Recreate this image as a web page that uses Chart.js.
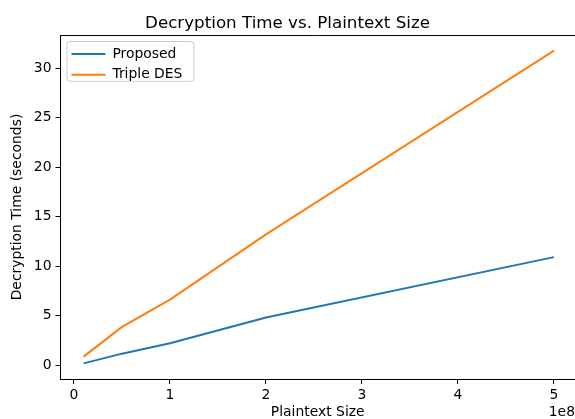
<!DOCTYPE html>
<html>
<head>
  <title>Decryption Time</title>
  <script src="https://cdn.jsdelivr.net/npm/chart.js"></script>
  <style>
    html, body { margin: 0; padding: 0; overflow: hidden; background: #fff; }
    canvas { display: block; }
  </style>
</head>
<body>
  <canvas id="decChart" width="575" height="419"></canvas>

  <script>
    // values
    const sizes = [1e7, 5e7, 1e8, 2e8, 5e8];
    const proposedTimes = [0.17, 1.15, 2.2, 4.8, 10.9];
    const tripleDesTimes = [0.85, 3.85, 6.6, 13.2, 31.75];
    const seriesNames = ['Proposed', 'Triple DES'];
    const xTicks = [0, 1e8, 2e8, 3e8, 4e8, 5e8];
    const yTicks = [0, 5, 10, 15, 20, 25, 30];

    const font = 'DejaVu Sans';

    // frame around legend, top spine, and the "1e8" offset text
    const extras = {
      id: 'extras',
      afterLayout(chart) {
        // move legend inside the plot, upper left
        const lg = chart.legend;
        const dx = 4, dy = 40;
        lg.left += dx; lg.right += dx;
        lg.top += dy; lg.bottom += dy;
      },
      beforeDraw(chart) {
        const ctx = chart.ctx;
        const boxes = chart.legend.legendHitBoxes;
        if (boxes && boxes.length) {
          let l = Infinity, t = Infinity, r = -Infinity, b = -Infinity;
          boxes.forEach(h => {
            l = Math.min(l, h.left); t = Math.min(t, h.top);
            r = Math.max(r, h.left + h.width); b = Math.max(b, h.top + h.height);
          });
          ctx.save();
          ctx.beginPath();
          ctx.roundRect(l - 4.5, t - 5.5, r - l + 16, b - t + 5, 3);
          ctx.fillStyle = 'rgba(255,255,255,0.8)';
          ctx.fill();
          ctx.strokeStyle = '#cccccc';
          ctx.lineWidth = 1;
          ctx.stroke();
          ctx.restore();
        }
      },
      afterDraw(chart) {
        const ctx = chart.ctx;
        const a = chart.chartArea;
        ctx.save();
        ctx.strokeStyle = '#000';
        ctx.lineWidth = 1;
        ctx.beginPath();
        ctx.moveTo(a.left, a.top + 0.5);
        ctx.lineTo(a.right, a.top + 0.5);
        ctx.stroke();
        ctx.fillStyle = '#000';
        ctx.font = '13.9px "' + font + '"';
        ctx.textAlign = 'right';
        ctx.textBaseline = 'middle';
        ctx.fillText('1e8', 575, 412);
        ctx.restore();
      }
    };

    const ctx = document.getElementById('decChart').getContext('2d');
    new Chart(ctx, {
      type: 'line',
      data: {
        datasets: [{
          label: seriesNames[0],
          data: sizes.map((s, i) => ({ x: s, y: proposedTimes[i] })),
          borderColor: '#1f77b4',
          backgroundColor: '#1f77b4',
          borderWidth: 2,
          pointRadius: 0,
          tension: 0
        }, {
          label: seriesNames[1],
          data: sizes.map((s, i) => ({ x: s, y: tripleDesTimes[i] })),
          borderColor: '#ff7f0e',
          backgroundColor: '#ff7f0e',
          borderWidth: 2,
          pointRadius: 0,
          tension: 0
        }]
      },
      options: {
        responsive: false,
        animation: false,
        devicePixelRatio: 1,
        layout: { padding: 0 },
        plugins: {
          title: {
            display: true,
            text: 'Decryption Time vs. Plaintext Size',
            color: '#000',
            font: { family: font, size: 16.7, weight: 'normal' },
            padding: { top: 14, bottom: 1 }
          },
          legend: {
            position: 'chartArea',
            align: 'start',
            labels: {
              color: '#000',
              font: { family: font, size: 13.9 },
              boxWidth: 34,
              boxHeight: 2,
              padding: 7,
              generateLabels: chart => Chart.defaults.plugins.legend.labels
                .generateLabels(chart).map(l => ({ ...l, lineWidth: 0 }))
            }
          },
          tooltip: { enabled: false }
        },
        scales: {
          x: {
            type: 'linear',
            min: -0.1406e8,
            max: 5.219e8,
            afterFit(scale) { scale.height = 40; },
            afterBuildTicks(scale) { scale.ticks = xTicks.map(v => ({ value: v })); },
            border: { display: true, color: '#000', width: 1 },
            grid: { drawOnChartArea: false, drawTicks: true, tickLength: 5, color: '#000' },
            ticks: {
              maxRotation: 0,
              autoSkip: false,
              padding: 3,
              color: '#000',
              font: { family: font, size: 13.9 },
              callback: v => String(v / 1e8)
            },
            title: {
              display: true,
              text: 'Plaintext Size',
              color: '#000',
              font: { family: font, size: 13.9 },
              padding: { top: 0, bottom: -2 }
            }
          },
          y: {
            type: 'linear',
            min: -1.41,
            max: 33.33,
            afterFit(scale) { scale.width = 60.5; },
            afterBuildTicks(scale) { scale.ticks = yTicks.map(v => ({ value: v })); },
            border: { display: true, color: '#000', width: 1 },
            grid: { drawOnChartArea: false, drawTicks: true, tickLength: 5, color: '#000' },
            ticks: {
              autoSkip: false,
              padding: 4,
              color: '#000',
              font: { family: font, size: 13.9 }
            },
            title: {
              display: true,
              text: 'Decryption Time (seconds)',
              color: '#000',
              font: { family: font, size: 13.9 },
              padding: { top: 9, bottom: 0 }
            }
          }
        }
      },
      plugins: [extras]
    });
  </script>
</body>
</html>
